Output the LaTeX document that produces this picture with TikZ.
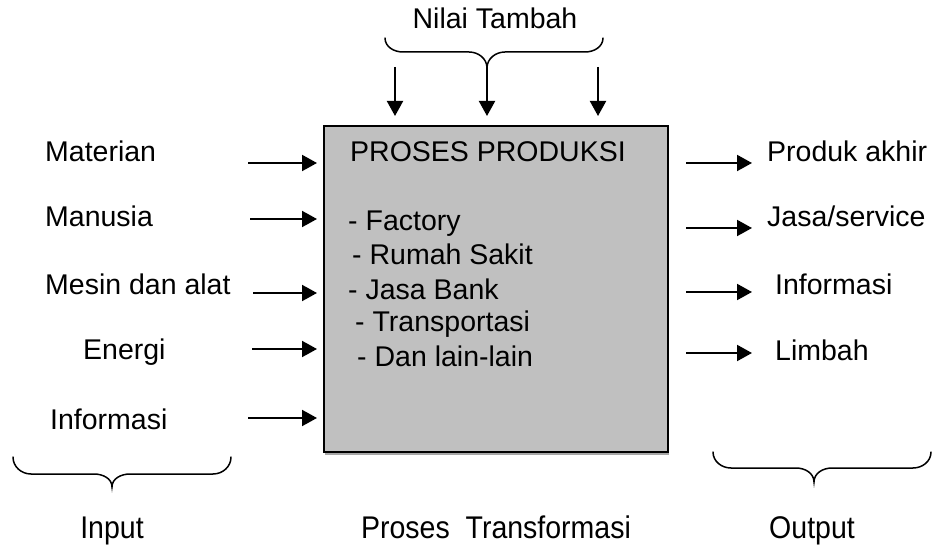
\documentclass[tikz,border=0pt]{standalone}
\usepackage{fontspec}
\setmainfont{Liberation Sans}
\usetikzlibrary{arrows.meta}
\begin{document}
\begin{tikzpicture}[x=1pt,y=1pt,
  lbl/.style={anchor=base west,inner sep=0pt,font=\fontsize{28.5}{34}\selectfont},
  clbl/.style={anchor=base,inner sep=0pt,font=\fontsize{28.5}{34}\selectfont},
  arr/.style={line width=2pt,-{Triangle[length=15pt,width=16pt]}},
  brc/.style={line width=1.5pt,line cap=round},
  procbox/.style={draw=black,line width=2pt,fill={rgb,255:red,192;green,192;blue,192},inner sep=0pt,anchor=south west,minimum width=344pt,minimum height=326pt}]
\useasboundingbox (0,0) rectangle (934,544);
% box with faint shadow
\fill[black!35] (325,89) rectangle (669,415);
\node[procbox] (box) at (323,91) {};
% box text
\node[lbl] (t0) at (350,382) {PROSES PRODUKSI};
\node[lbl] (t1) at (348,313) {- Factory};
\node[lbl] (t2) at (352,279) {- Rumah Sakit};
\node[lbl] (t3) at (348,244) {- Jasa Bank};
\node[lbl] (t4) at (355,212) {- Transportasi};
\node[lbl] (t5) at (357,178) {- Dan lain-lain};
% left labels
\node[lbl] (l1) at (45,382) {Materian};
\node[lbl] (l2) at (45,317) {Manusia};
\node[lbl] (l3) at (45,249) {Mesin dan alat};
\node[lbl] (l4) at (83,185) {Energi};
\node[lbl] (l5) at (50,115) {Informasi};
% right labels
\node[lbl] (r1) at (767,382) {Produk akhir};
\node[lbl] (r2) at (767,317) {Jasa/service};
\node[lbl] (r3) at (775,249) {Informasi};
\node[lbl] (r4) at (775,183) {Limbah};
% left arrows
\coordinate (la1) at (248,381);
\coordinate (la2) at (250,325);
\coordinate (la3) at (253,251);
\coordinate (la4) at (252,195);
\coordinate (la5) at (248,126);
\foreach \i in {1,...,5}{\draw[arr,shorten >=6pt] (la\i) -- (box.west |- la\i);}
% right arrows
\coordinate (ra1) at (686,381); \coordinate (rb1) at (752,381);
\coordinate (ra2) at (686,316); \coordinate (rb2) at (752,316);
\coordinate (ra3) at (686,252); \coordinate (rb3) at (752,252);
\coordinate (ra4) at (686,191); \coordinate (rb4) at (752,191);
\foreach \i in {1,...,4}{\draw[arr] (ra\i) -- (rb\i);}
% top brace and label
\node[clbl] (nt) at (495,515) {Nilai Tambah};
\draw[brc] (385,506) to[out=-90,in=180] (403,492) -- (469,492) to[out=0,in=90] (487,476)
           to[out=90,in=180] (505,492) -- (585,492) to[out=0,in=-90] (603,506);
\coordinate (d1) at (395,477);
\coordinate (d2) at (487,476);
\coordinate (d3) at (598,477);
\foreach \i in {1,2,3}{\draw[arr,shorten >=9pt] (d\i) -- (d\i |- box.north);}
% bottom braces
\draw[brc] (13,87) to[out=-90,in=180] (31,70) -- (94,70) to[out=0,in=90] (112,57)
           to[out=90,in=180] (130,70) -- (213,70) to[out=0,in=-90] (231,87);
\draw[brc] (713,92) to[out=-90,in=180] (731,76) -- (796,76) to[out=0,in=90] (814,62)
           to[out=90,in=180] (832,76) -- (913,76) to[out=0,in=-90] (931,92);
% bottom labels
\node[clbl] (bi) at (112,6) {\scalebox{1}[1.1]{Input}};
\node[clbl] (bp) at (496,6) {\scalebox{1}[1.1]{Proses\ \ Transformasi}};
\node[clbl] (bo) at (812,6) {\scalebox{1}[1.1]{Output}};
\end{tikzpicture}
\end{document}
